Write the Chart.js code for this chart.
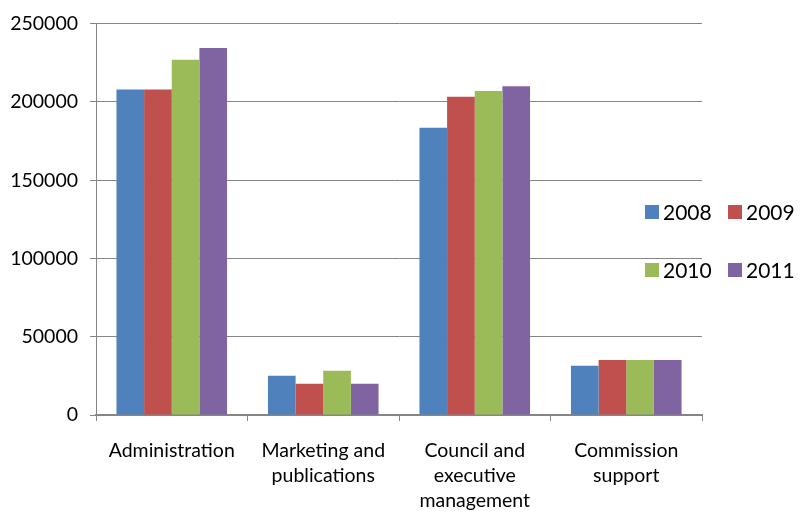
<!DOCTYPE html>
<html>
<head>
<meta charset="utf-8">
<script src="https://cdn.jsdelivr.net/npm/chart.js@4"></script>
<style>
html,body{margin:0;padding:0;background:#fff;}
#wrap{width:800px;height:514px;}
</style>
</head>
<body>
<div id="wrap"><canvas id="c" width="800" height="514"></canvas></div>
<script>
const categories = ["Administration", ["Marketing and", "publications"], ["Council and", "executive", "management"], ["Commission", "support"]];
const seriesLabels = ["2008", "2009", "2010", "2011"];
const values2008 = [208000, 25000, 183600, 31400];
const values2009 = [208000, 20000, 203300, 35200];
const values2010 = [227000, 28200, 207000, 35200];
const values2011 = [234500, 20000, 210000, 35200];
const yTicks = [0, 50000, 100000, 150000, 200000, 250000];
const colors = ["#4F81BD", "#C0504D", "#9BBB59", "#8064A2"];

const allValues = [values2008, values2009, values2010, values2011];

const legendPlugin = {
  id: 'gridLegend',
  afterDraw(chart) {
    const ctx = chart.ctx;
    ctx.save();
    ctx.font = '21px Lato';
    ctx.textBaseline = 'middle';
    ctx.textAlign = 'left';
    chart.data.datasets.forEach((ds, i) => {
      const col = i % 2, row = Math.floor(i / 2);
      const x = 645 + col * 83;
      const y = 212 + row * 58;
      ctx.fillStyle = ds.backgroundColor;
      ctx.fillRect(x, y - 7, 14, 14);
      ctx.fillStyle = '#000';
      ctx.fillText(ds.label, x + 18, y + 1);
    });
    ctx.restore();
  }
};

new Chart(document.getElementById('c'), {
  type: 'bar',
  data: {
    labels: categories,
    datasets: seriesLabels.map((l, i) => ({
      label: l,
      data: allValues[i],
      backgroundColor: colors[i],
      borderWidth: 0,
      barPercentage: 1.0,
      categoryPercentage: 0.73
    }))
  },
  options: {
    responsive: false,
    animation: false,
    devicePixelRatio: 1,
    layout: { padding: { left: 0, right: 98, top: 22, bottom: 0 } },
    plugins: { legend: { display: false }, tooltip: { enabled: false } },
    scales: {
      x: {
        offset: true,
        grid: { offset: true, drawOnChartArea: false, drawTicks: true, tickLength: 6, color: '#868686', lineWidth: 1 },
        border: { display: true, color: '#868686', width: 2 },
        ticks: { color: '#000', font: { family: 'Lato', size: 19.5, lineHeight: 1.28 }, padding: 17, maxRotation: 0, autoSkip: false },
        afterFit: s => { s.height = 99; }
      },
      y: {
        min: 0, max: 250000,
        afterBuildTicks: s => { s.ticks = yTicks.map(v => ({ value: v })); },
        grid: { color: '#868686', lineWidth: 1, tickLength: 6, drawTicks: true },
        border: { display: true, color: '#868686', width: 1 },
        ticks: { color: '#000', font: { family: 'Lato', size: 19.5 }, padding: 12, callback: v => String(v) },
        afterFit: s => { s.width = 96; }
      }
    }
  },
  plugins: [legendPlugin]
});
</script>
</body>
</html>
